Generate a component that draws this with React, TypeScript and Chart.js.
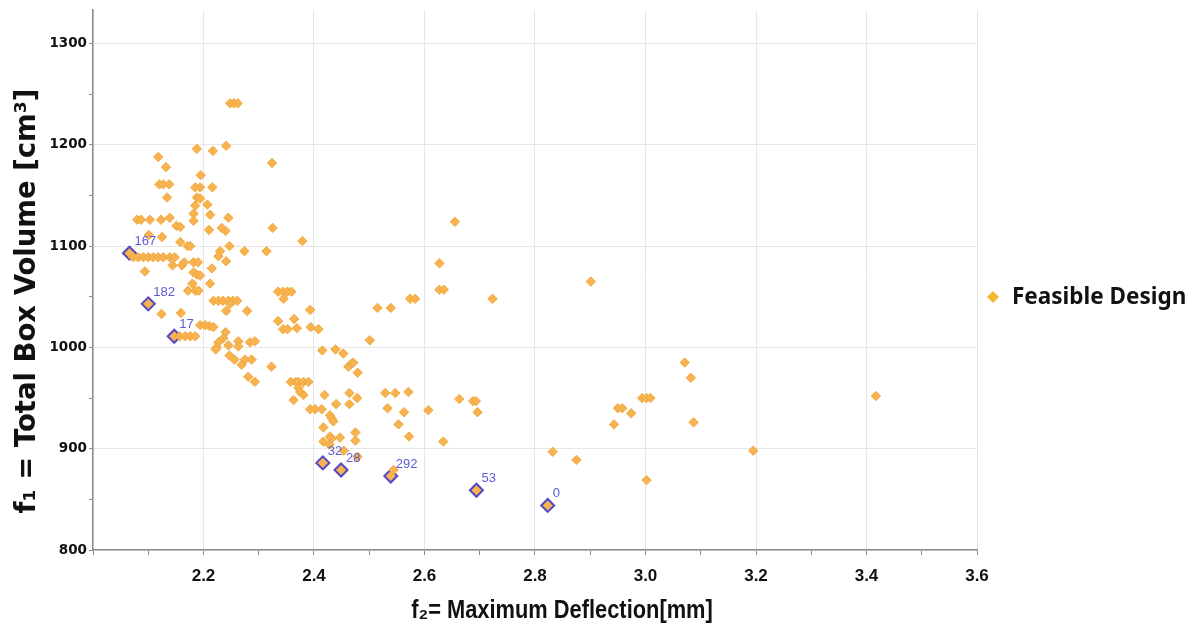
import { useEffect, useRef } from "react";
import { Chart, registerables } from "chart.js";

Chart.register(...registerables);

// ---- data ----
const feasibleF2: number[] = [
  2.248, 2.255, 2.262, 2.188, 2.217, 2.241, 2.118, 2.324, 2.132, 2.195,
  2.120, 2.127, 2.138, 2.185, 2.194, 2.216, 2.134, 2.188, 2.194, 2.185,
  2.207, 2.182, 2.212, 2.245, 2.080, 2.087, 2.103, 2.123, 2.139, 2.182,
  2.151, 2.158, 2.210, 2.233, 2.240, 2.325, 2.379, 2.101, 2.125, 2.158,
  2.171, 2.176, 2.247, 2.274, 2.314, 2.230, 2.227, 2.241,
  2.073, 2.082, 2.091, 2.100, 2.109, 2.118, 2.127, 2.139, 2.148,
  2.144, 2.161, 2.165, 2.182, 2.190, 2.094, 2.182, 2.188, 2.194, 2.215,
  2.212, 2.180, 2.172, 2.185, 2.191, 2.335, 2.344, 2.352, 2.359, 2.345,
  2.124, 2.159, 2.157, 2.167, 2.176, 2.185, 2.194, 2.203, 2.211, 2.218,
  2.218, 2.227, 2.235, 2.245, 2.253, 2.261, 2.248, 2.241, 2.279, 2.393,
  2.335, 2.364, 2.344, 2.352, 2.369, 2.394, 2.408, 2.240, 2.236, 2.227,
  2.224, 2.222, 2.245, 2.263, 2.263, 2.284, 2.293, 2.415, 2.439, 2.453,
  2.501, 2.247, 2.256, 2.275, 2.287, 2.269, 2.323, 2.281, 2.293, 2.462,
  2.468, 2.471, 2.479, 2.358, 2.367, 2.372, 2.381, 2.390, 2.372, 2.375,
  2.381, 2.363, 2.419, 2.440, 2.464, 2.464, 2.478, 2.393, 2.402, 2.414,
  2.429, 2.432, 2.435, 2.417, 2.429, 2.432, 2.447, 2.417, 2.428, 2.475,
  2.475, 2.454, 2.479, 2.529, 2.547, 2.571, 2.533, 2.563, 2.607, 2.553,
  2.572, 2.634, 2.663, 2.688, 2.693, 2.696, 2.544, 2.832, 2.875, 3.002,
  2.943, 2.950, 2.958, 2.974, 2.994, 3.002, 3.009, 3.071, 3.082, 3.087,
  3.195, 3.417, 2.901, 2.723, 2.574, 2.583, 2.515, 2.539, 2.627, 2.627,
  2.635, 2.655,
];
const feasibleF1: number[] = [
  1241, 1241, 1241, 1196, 1194, 1199, 1188, 1182, 1178, 1170,
  1161, 1161, 1161, 1158, 1158, 1158, 1148, 1148, 1147, 1140,
  1141, 1132, 1131, 1128, 1126, 1126, 1126, 1126, 1128, 1125,
  1120, 1119, 1116, 1118, 1115, 1118, 1105, 1111, 1109, 1104,
  1100, 1100, 1100, 1095, 1095, 1095, 1090, 1085,
  1089, 1089, 1089, 1089, 1089, 1089, 1089, 1089, 1089,
  1081, 1081, 1084, 1084, 1084, 1075, 1074, 1072, 1071, 1078,
  1063, 1063, 1056, 1056, 1056, 1055, 1055, 1055, 1055, 1048,
  1033, 1034, 1011, 1011, 1011, 1011, 1022, 1022, 1021, 1020,
  1046, 1046, 1046, 1046, 1046, 1046, 1043, 1036, 1036, 1037,
  1026, 1028, 1018, 1018, 1019, 1020, 1018, 1015, 1009, 1005,
  1000, 998, 1002, 1006, 1001, 1005, 1006, 997, 998, 994,
  1007, 992, 988, 988, 988, 983, 981, 971, 966, 981,
  984, 985, 975, 966, 966, 966, 966, 966, 960, 956,
  953, 948, 953, 944, 955, 944, 950, 939, 939, 939,
  933, 930, 927, 921, 912, 910, 911, 907, 904, 916,
  908, 898, 892, 955, 955, 956, 940, 936, 938, 924,
  912, 907, 949, 947, 947, 936, 879, 897, 889, 869,
  924, 940, 940, 935, 950, 950, 950, 985, 970, 926,
  898, 952, 1065, 1048, 1048, 1048, 1039, 1039, 1083, 1057,
  1057, 1124,
];

const paretoIds: string[] = ["167", "182", "17", "32", "28", "292", "53", "0"];
const paretoF2: number[] = [2.066, 2.1, 2.147, 2.416, 2.449, 2.539, 2.694, 2.823];
const paretoF1: number[] = [1093, 1043, 1011, 886, 879, 873, 859, 844];

const seriesLabel = "Feasible Design";
const xTitle = "f\u2082= Maximum Deflection[mm]";
const yTitle = "f\u2081 = Total Box Volume [cm\u00B3]";
const xRange = [2.0, 3.6];
const yRange = [800, 1333];

const ORANGE = "#f6b34f";
const ORANGE_EDGE = "#f1a940";
const PURPLE = "#5548c8";
const LABEL_BLUE = "#5b5bd8";
const GRID = "#e6e6e6";
const AXIS = "#8c8c8c";

const pointLabelPlugin = {
  id: "pointLabels",
  afterDatasetsDraw(chart: any) {
    const { ctx, scales } = chart;
    ctx.save();
    ctx.font = "13px 'Liberation Sans', Arial, sans-serif";
    ctx.fillStyle = LABEL_BLUE;
    ctx.textAlign = "left";
    ctx.textBaseline = "alphabetic";
    paretoIds.forEach((id, i) => {
      const px = scales.x.getPixelForValue(paretoF2[i]);
      const py = scales.y.getPixelForValue(paretoF1[i]);
      ctx.fillText(id, px + 5, py - 8);
    });
    ctx.restore();
  },
};

const titlesAndLegendPlugin = {
  id: "titlesAndLegend",
  afterDraw(chart: any) {
    const { ctx, chartArea } = chart;
    ctx.save();
    // x-axis title (compressed bold)
    ctx.fillStyle = "#111";
    ctx.textAlign = "center";
    ctx.textBaseline = "middle";
    ctx.save();
    ctx.translate((chartArea.left + chartArea.right) / 2 + 27, chartArea.bottom + 61);
    ctx.scale(0.84, 1);
    ctx.font = "bold 26px 'Liberation Sans', Arial, sans-serif";
    ctx.fillText(xTitle, 0, 0);
    ctx.restore();
    // y-axis title (rotated)
    ctx.save();
    ctx.translate(28, (chartArea.top + chartArea.bottom) / 2 + 21);
    ctx.rotate(-Math.PI / 2);
    ctx.font = "bold 27.5px 'DejaVu Sans', sans-serif";
    ctx.fillText(yTitle, 0, 0);
    ctx.restore();
    // legend
    const cx = chartArea.right + 16;
    const cy = (chartArea.top + chartArea.bottom) / 2 + 17;
    ctx.fillStyle = "#f5b730";
    ctx.beginPath();
    ctx.moveTo(cx, cy - 6);
    ctx.lineTo(cx + 6, cy);
    ctx.lineTo(cx, cy + 6);
    ctx.lineTo(cx - 6, cy);
    ctx.closePath();
    ctx.fill();
    ctx.fillStyle = "#111";
    ctx.font = "bold 22.5px 'Noto Sans', 'Open Sans', sans-serif";
    ctx.textAlign = "left";
    ctx.fillText(seriesLabel, cx + 19, cy + 1);
    ctx.restore();
  },
};

export default function App() {
  const ref = useRef<HTMLCanvasElement | null>(null);

  useEffect(() => {
    if (!ref.current) return;
    const feasible = feasibleF2.map((x, i) => ({ x, y: feasibleF1[i] }));
    const pareto = paretoF2.map((x, i) => ({ x, y: paretoF1[i] }));

    const chart = new Chart(ref.current, {
      type: "scatter",
      data: {
        datasets: [
          {
            label: seriesLabel,
            data: feasible,
            pointStyle: "rectRot",
            pointRadius: 4.7,
            backgroundColor: ORANGE,
            borderColor: ORANGE_EDGE,
            borderWidth: 1,
          },
          {
            label: "Pareto",
            data: pareto,
            pointStyle: "rectRot",
            pointRadius: 6.5,
            backgroundColor: ORANGE,
            borderColor: PURPLE,
            borderWidth: 2,
          },
        ],
      },
      options: {
        responsive: false,
        animation: false,
        devicePixelRatio: 1,
        layout: { padding: { left: 0, right: 219, top: 8, bottom: 0 } },
        plugins: {
          legend: { display: false },
          tooltip: { enabled: false },
        },
        scales: {
          x: {
            type: "linear",
            min: xRange[0],
            max: xRange[1],
            afterFit(scale: any) {
              scale.height = 82;
            },
            ticks: {
              stepSize: 0.1,
              autoSkip: false,
              maxRotation: 0,
              padding: 11,
              color: "#111",
              font: { family: "'Liberation Sans', Arial, sans-serif", size: 17, weight: "bold" },
              callback: (v: any) => {
                const k = Math.round(Number(v) * 10);
                return k % 2 === 0 && k > 20 ? (k / 10).toFixed(1) : "";
              },
            },
            grid: {
              color: (c: any) => {
                const k = c.tick ? Math.round(c.tick.value * 10) : 1;
                return k % 2 === 0 ? GRID : "rgba(0,0,0,0)";
              },
              tickColor: AXIS,
              tickLength: 5,
              lineWidth: 1,
            },
            border: { color: AXIS, width: 1.5 },
            title: { display: false, text: xTitle },
          },
          y: {
            type: "linear",
            min: yRange[0],
            max: yRange[1],
            afterFit(scale: any) {
              scale.width = 93;
            },
            afterBuildTicks(scale: any) {
              scale.ticks = scale.ticks.filter((t: any) => Math.abs(t.value / 50 - Math.round(t.value / 50)) < 1e-6);
            },
            ticks: {
              stepSize: 50,
              autoSkip: false,
              padding: 2,
              color: "#111",
              font: { family: "'DejaVu Sans', sans-serif", size: 13.5, weight: "bold" },
              callback: (v: any) => (Math.round(Number(v)) % 100 === 0 ? String(Math.round(Number(v))) : ""),
            },
            grid: {
              color: (c: any) => {
                const v = c.tick ? Math.round(c.tick.value) : 1;
                return v % 100 === 0 ? GRID : "rgba(0,0,0,0)";
              },
              tickColor: AXIS,
              tickLength: 4,
              lineWidth: 1,
            },
            border: { color: AXIS, width: 1.5 },
            title: { display: false, text: yTitle },
          },
        },
      },
      plugins: [pointLabelPlugin, titlesAndLegendPlugin],
    });
    return () => chart.destroy();
  }, []);

  return (
    <div style={{ position: "fixed", left: 0, top: 0, width: 1196, height: 632, background: "#fff" }}>
      <canvas ref={ref} width={1196} height={632} style={{ display: "block" }} />
    </div>
  );
}
